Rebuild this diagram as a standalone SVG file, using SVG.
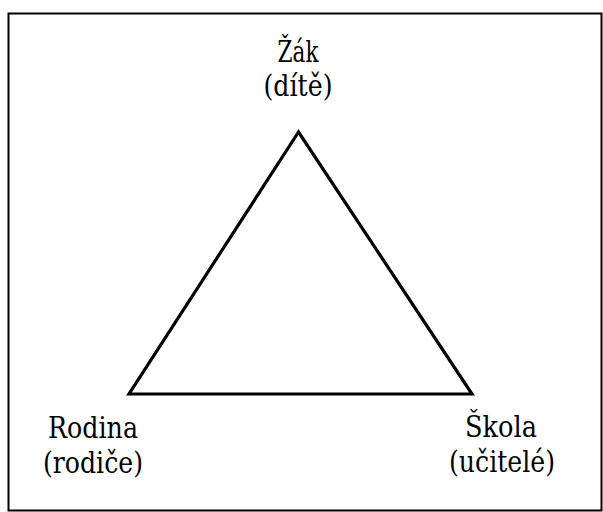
<svg xmlns="http://www.w3.org/2000/svg" width="603" height="512" viewBox="0 0 603 512">
<style>
text{font-family:'DejaVu Serif',serif;font-size:29px;fill:#000;text-anchor:middle}
.edge{fill:none;stroke:#000;stroke-width:3.2;stroke-linejoin:miter}
</style>
<rect x="0" y="0" width="603" height="512" fill="#fff"/>
<rect x="8.5" y="13.5" width="593" height="497" fill="none" stroke="#000" stroke-width="2"/>
<g id="connectors">
<polygon class="edge" points="298.5,132 129,394 472,394"/>
</g>
<g id="node-zak">
<text x="298" y="62" textLength="41" lengthAdjust="spacingAndGlyphs">Žák</text>
<text x="298" y="96" textLength="69" lengthAdjust="spacingAndGlyphs">(dítě)</text>
</g>
<g id="node-rodina">
<text x="93" y="438" textLength="90" lengthAdjust="spacingAndGlyphs">Rodina</text>
<text x="93" y="473" textLength="100" lengthAdjust="spacingAndGlyphs">(rodiče)</text>
</g>
<g id="node-skola">
<text x="501" y="437" textLength="72" lengthAdjust="spacingAndGlyphs">Škola</text>
<text x="502" y="472" textLength="106" lengthAdjust="spacingAndGlyphs">(učitelé)</text>
</g>
</svg>
